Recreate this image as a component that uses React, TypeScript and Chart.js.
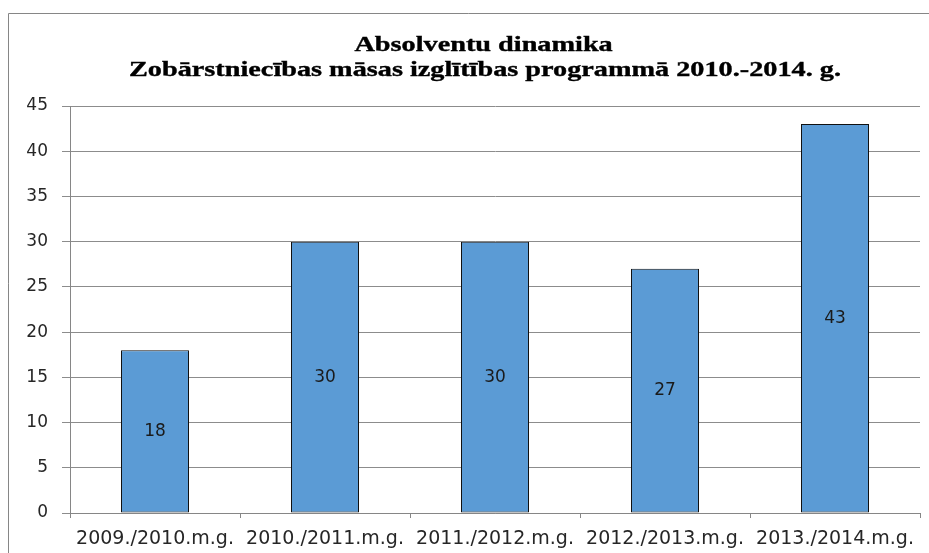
import React, { useEffect, useRef } from 'react';
import { Chart, registerables } from 'chart.js';

Chart.register(...registerables);

const categories = ['2009./2010.m.g.', '2010./2011.m.g.', '2011./2012.m.g.', '2012./2013.m.g.', '2013./2014.m.g.'];
const graduates = [18, 30, 30, 27, 43];
const titleLines = ['Absolventu dinamika', 'Zobārstniecības māsas izglītības programmā 2010.-2014. g.'];
const yMin = 0;
const yMax = 45;
const yStep = 5;

const frameAndTitle = {
  id: 'frameAndTitle',
  afterDraw(chart: any) {
    const ctx = chart.ctx as CanvasRenderingContext2D;
    ctx.save();
    ctx.strokeStyle = '#868686';
    ctx.lineWidth = 1;
    ctx.beginPath();
    ctx.moveTo(0.5, chart.height);
    ctx.lineTo(0.5, 5.5);
    ctx.lineTo(chart.width, 5.5);
    ctx.stroke();

    ctx.font = 'bold 20px "Liberation Serif"';
    ctx.fillStyle = '#000000';
    ctx.strokeStyle = '#000000';
    ctx.lineWidth = 0.35;
    ctx.textAlign = 'center';
    ctx.textBaseline = 'alphabetic';
    const w = ctx.measureText(titleLines[1]).width;
    const sx = 712 / w;
    ctx.translate(477, 0);
    ctx.scale(sx, 1);
    ctx.fillText(titleLines[0], -1, 43);
    ctx.strokeText(titleLines[0], -1, 43);
    ctx.fillText(titleLines[1], 0, 68);
    ctx.strokeText(titleLines[1], 0, 68);
    ctx.restore();
  },
};

const barValueLabels = {
  id: 'barValueLabels',
  afterDatasetsDraw(chart: any) {
    const ctx = chart.ctx as CanvasRenderingContext2D;
    const meta = chart.getDatasetMeta(0);
    ctx.save();
    ctx.font = '17px "DejaVu Sans"';
    ctx.fillStyle = '#1a1a1a';
    ctx.textAlign = 'center';
    ctx.textBaseline = 'middle';
    meta.data.forEach((bar: any, i: number) => {
      const { x, y, base } = bar.getProps(['x', 'y', 'base'], true);
      ctx.fillText(String(chart.data.datasets[0].data[i]), x, (y + base) / 2);
    });
    ctx.restore();
  },
};

export default function App() {
  const ref = useRef<HTMLCanvasElement | null>(null);

  useEffect(() => {
    if (!ref.current) return;
    const chart = new Chart(ref.current, {
      type: 'bar',
      data: {
        labels: categories,
        datasets: [
          {
            data: graduates,
            backgroundColor: '#5B9BD5',
            borderColor: '#111111',
            borderWidth: 1,
            borderSkipped: false,
            barPercentage: 0.4,
            categoryPercentage: 1,
          },
        ],
      },
      options: {
        responsive: false,
        animation: false,
        devicePixelRatio: 1,
        layout: { padding: { top: 98, right: 9, bottom: 0, left: 0 } },
        plugins: {
          legend: { display: false },
          title: { display: false },
          tooltip: { enabled: false },
        },
        scales: {
          x: {
            grid: {
              display: true,
              drawOnChartArea: false,
              drawTicks: true,
              tickLength: 5,
              color: '#868686',
              offset: true,
            },
            border: { display: true, color: '#868686' },
            ticks: {
              font: { family: 'DejaVu Sans', size: 19 },
              color: '#262626',
              padding: 10,
              maxRotation: 0,
              autoSkip: false,
            },
            afterFit: (s: any) => {
              s.height = 40;
            },
          },
          y: {
            min: yMin,
            max: yMax,
            ticks: {
              stepSize: yStep,
              font: { family: 'DejaVu Sans', size: 17 },
              color: '#262626',
              padding: 14,
            },
            grid: { color: '#8c8c8c', tickLength: 8, drawTicks: true },
            border: { color: '#868686' },
            afterFit: (s: any) => {
              s.width = 62;
            },
          },
        },
      },
      plugins: [frameAndTitle, barValueLabels],
    });
    return () => chart.destroy();
  }, []);

  return (
    <div style={{ position: 'absolute', left: 8, top: 8, width: 921, height: 545, background: '#ffffff' }}>
      <canvas ref={ref} width={921} height={545} style={{ display: 'block' }} />
    </div>
  );
}
